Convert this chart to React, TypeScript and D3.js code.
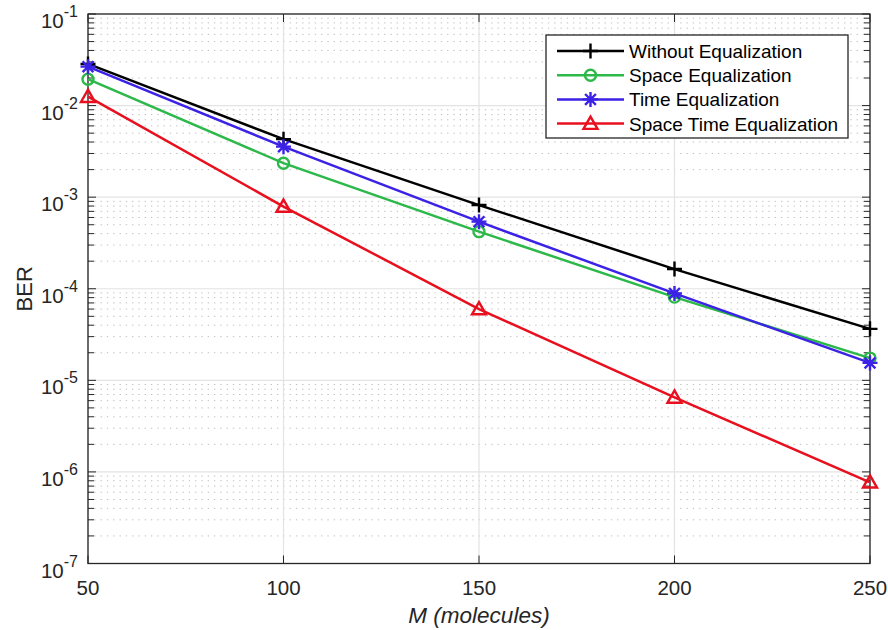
import React from 'react';
import * as d3 from 'd3';

// number of molecules M
const mValues = [50, 100, 150, 200, 250];

// BER curves
const withoutEq = [0.0285, 4.3e-3, 8.2e-4, 1.64e-4, 3.65e-5];
const spaceEq = [0.0194, 2.35e-3, 4.2e-4, 8.1e-5, 1.75e-5];
const timeEq = [0.0266, 3.56e-3, 5.4e-4, 8.9e-5, 1.55e-5];
const spaceTimeEq = [0.0125, 7.9e-4, 6.0e-5, 6.5e-6, 7.7e-7];

const seriesNames = ['Without Equalization', 'Space Equalization', 'Time Equalization', 'Space Time Equalization'];
const xTicks = [50, 100, 150, 200, 250];
const yExponents = [-1, -2, -3, -4, -5, -6, -7];

const W = 888;
const H = 630;
const left = 88, right = 870, top = 14, bottom = 563.5;
const font = '"Liberation Sans", Arial, Helvetica, sans-serif';
const axisColor = '#262626';

const series = [
  { name: seriesNames[0], values: withoutEq, color: '#000000', marker: 'plus' },
  { name: seriesNames[1], values: spaceEq, color: '#2db84a', marker: 'circle' },
  { name: seriesNames[2], values: timeEq, color: '#3b22e6', marker: 'star' },
  { name: seriesNames[3], values: spaceTimeEq, color: '#e8101f', marker: 'triangle' },
];

function Marker({ type, x, y, color }: { type: string; x: number; y: number; color: string }) {
  const common = { stroke: color, strokeWidth: 2.4, fill: 'none' };
  if (type === 'plus') {
    const r = 7.5;
    return <path d={`M${x - r},${y}H${x + r}M${x},${y - r}V${y + r}`} {...common} />;
  }
  if (type === 'circle') {
    return <circle cx={x} cy={y} r={5.5} {...common} />;
  }
  if (type === 'star') {
    const r = 7.5, d = r * 0.72;
    return (
      <path
        d={`M${x - r},${y}H${x + r}M${x},${y - r}V${y + r}M${x - d},${y - d}L${x + d},${y + d}M${x - d},${y + d}L${x + d},${y - d}`}
        {...common}
      />
    );
  }
  const s = 7;
  return <path d={`M${x},${y - s}L${x + s},${y + s * 0.75}L${x - s},${y + s * 0.75}Z`} {...common} strokeLinejoin="miter" />;
}

export default function App() {
  const x = d3.scaleLinear().domain([50, 250]).range([left, right]);
  const y = d3.scaleLog().domain([1e-7, 1e-1]).range([bottom, top]);

  const allYTicks = y.ticks();
  const isMajor = (v: number) => Math.abs(Math.log10(v) - Math.round(Math.log10(v))) < 1e-9;
  const minorY = allYTicks.filter((v) => !isMajor(v));
  const majorY = yExponents.map((e) => Math.pow(10, e));

  const line = d3
    .line<number>()
    .x((_, i) => x(mValues[i]))
    .y((v) => y(v));

  const legX = 546, legY = 35, legW = 302, legH = 103;
  const rowY = (i: number) => 51 + i * 24.2;

  return (
    <svg width={W} height={H} style={{ position: 'absolute', left: 0, top: 0, background: '#fff' }} fontFamily={font}>
      <rect x={0} y={0} width={W} height={H} fill="#fff" />
      {/* minor grid */}
      {minorY.map((v, i) => (
        <line key={'mg' + i} x1={left} x2={right} y1={y(v)} y2={y(v)} stroke="#bdbdbd" strokeWidth={1} strokeDasharray="1.3,5" />
      ))}
      {/* major grid */}
      {majorY.map((v, i) => (
        <line key={'gy' + i} x1={left} x2={right} y1={y(v)} y2={y(v)} stroke="#e3e3e3" strokeWidth={1.2} />
      ))}
      {xTicks.map((t, i) => (
        <line key={'gx' + i} x1={x(t)} x2={x(t)} y1={top} y2={bottom} stroke="#e3e3e3" strokeWidth={1.2} />
      ))}

      {/* axes box */}
      <rect x={left} y={top} width={right - left} height={bottom - top} fill="none" stroke={axisColor} strokeWidth={1.3} />
      {/* y ticks */}
      {minorY.map((v, i) => (
        <g key={'my' + i} stroke={axisColor} strokeWidth={1}>
          <line x1={left} x2={left + 6} y1={y(v)} y2={y(v)} />
          <line x1={right} x2={right - 6} y1={y(v)} y2={y(v)} />
        </g>
      ))}
      {majorY.map((v, i) => (
        <g key={'My' + i} stroke={axisColor} strokeWidth={1}>
          <line x1={left} x2={left + 8} y1={y(v)} y2={y(v)} />
          <line x1={right} x2={right - 8} y1={y(v)} y2={y(v)} />
        </g>
      ))}
      {xTicks.map((t, i) => (
        <g key={'xt' + i} stroke={axisColor} strokeWidth={1}>
          <line x1={x(t)} x2={x(t)} y1={bottom} y2={bottom - 8} />
          <line x1={x(t)} x2={x(t)} y1={top} y2={top + 8} />
        </g>
      ))}

      {/* tick labels */}
      {xTicks.map((t, i) => (
        <text key={'xl' + i} x={x(t)} y={595} textAnchor="middle" fontSize={20.5} fill={axisColor}>
          {t}
        </text>
      ))}
      {yExponents.map((e, i) => (
        <text key={'yl' + i} x={78} y={y(Math.pow(10, e)) + 14} textAnchor="end" fontSize={20.5} fill={axisColor}>
          10
          <tspan dy={-11} fontSize={16}>
            {String(e)}
          </tspan>
        </text>
      ))}

      {/* axis labels */}
      <text x={479} y={623} textAnchor="middle" fontSize={22.5} fontStyle="italic" fill={axisColor}>
        M (molecules)
      </text>
      <text transform={`translate(32,${(top + bottom) / 2}) rotate(-90)`} textAnchor="middle" fontSize={22} fill={axisColor}>
        BER
      </text>

      {/* series */}
      {series.map((s) => (
        <g key={s.name}>
          <path d={line(s.values) || ''} fill="none" stroke={s.color} strokeWidth={2.5} />
          {s.values.map((v, i) => (
            <Marker key={i} type={s.marker} x={x(mValues[i])} y={y(v)} color={s.color} />
          ))}
        </g>
      ))}

      {/* legend */}
      <rect x={legX} y={legY} width={legW} height={legH} fill="#fff" stroke={axisColor} strokeWidth={1.3} />
      {series.map((s, i) => (
        <g key={'lg' + i}>
          <line x1={557} x2={624} y1={rowY(i)} y2={rowY(i)} stroke={s.color} strokeWidth={2.5} />
          <Marker type={s.marker} x={590.5} y={rowY(i)} color={s.color} />
          <text x={629} y={rowY(i) + 7} fontSize={19} fill="#000">
            {s.name}
          </text>
        </g>
      ))}
    </svg>
  );
}
